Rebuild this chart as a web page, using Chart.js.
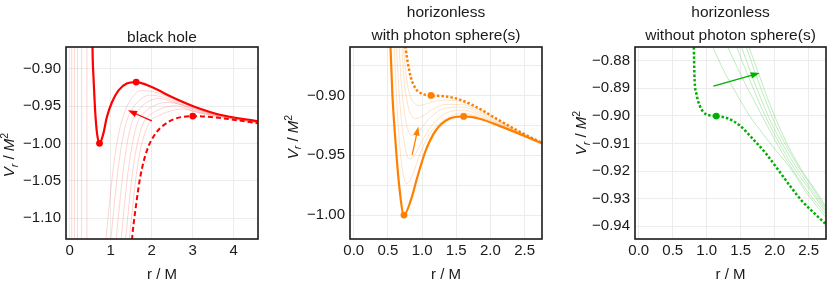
<!DOCTYPE html>
<html>
<head>
<meta charset="utf-8">
<script src="https://cdn.jsdelivr.net/npm/chart.js@4.4.1/dist/chart.umd.min.js"></script>
<style>
  body { margin: 0; background: #fff; width: 830px; height: 286px; overflow: hidden; position: relative; }
  canvas { position: absolute; top: 0; }
</style>
</head>
<body>
<canvas id="bh" width="270" height="286" style="left:0px"></canvas>
<canvas id="ps" width="270" height="286" style="left:280px"></canvas>
<canvas id="nps" width="270" height="286" style="left:560px"></canvas>
<script>
// radial potential V_r / M^2 against r / M as [r, V] pairs

// --- black hole ---
const bhSolid = [[0.552,-0.86],[0.562,-0.889],[0.58,-0.911],[0.62,-0.956],[0.667,-0.987],[0.727,-1.0],[0.82,-0.987],[0.905,-0.965],[1.03,-0.945],[1.19,-0.929],[1.39,-0.920],[1.62,-0.918],[2.0,-0.9246],[2.49,-0.938],[3.06,-0.9514],[3.63,-0.9613],[4.6,-0.9705]];
const bhDashed = [[1.505,-1.14],[1.52,-1.128],[1.6,-1.09],[1.72,-1.045],[1.88,-1.01],[2.09,-0.987],[2.33,-0.974],[2.57,-0.967],[3.0,-0.9635],[3.63,-0.9658],[4.6,-0.9732]];
const bhThin = [
  [[0.86,-1.14],[0.87,-1.135],[1.04,-1.0436],[1.15,-1.0],[1.27,-0.97],[1.4,-0.950],[1.55,-0.937],[1.71,-0.9295],[2.0,-0.9305],[2.5,-0.940],[3.0,-0.9517],[3.6,-0.9614],[4.6,-0.9709]],
  [[0.98,-1.14],[0.99,-1.135],[1.16,-1.0436],[1.27,-1.0],[1.39,-0.97],[1.55,-0.952],[1.75,-0.940],[1.96,-0.9354],[2.2,-0.9370],[2.5,-0.9425],[3.0,-0.9527],[3.6,-0.9619],[4.6,-0.9713]],
  [[1.11,-1.14],[1.12,-1.135],[1.29,-1.0436],[1.40,-1.0],[1.53,-0.97],[1.7,-0.954],[1.9,-0.9445],[2.16,-0.9398],[2.5,-0.9445],[3.0,-0.9538],[3.6,-0.9624],[4.6,-0.9717]],
  [[1.23,-1.14],[1.24,-1.135],[1.41,-1.0436],[1.53,-1.0],[1.67,-0.97],[1.85,-0.957],[2.1,-0.9485],[2.36,-0.9452],[2.7,-0.9480],[3.0,-0.9550],[3.6,-0.9629],[4.6,-0.9721]],
  [[1.34,-1.14],[1.35,-1.135],[1.52,-1.0436],[1.65,-1.0],[1.82,-0.97],[2.0,-0.9605],[2.25,-0.9530],[2.57,-0.9497],[3.0,-0.9565],[3.6,-0.9636],[4.6,-0.9725]],
  [[1.43,-1.14],[1.44,-1.135],[1.62,-1.0436],[1.76,-1.0],[1.97,-0.97],[2.15,-0.9635],[2.4,-0.9575],[2.77,-0.9541],[3.1,-0.9585],[3.6,-0.9643],[4.6,-0.9728]]
];
const bhInner = [0.05, 0.12, 0.19, 0.29, 0.42]; // near-vertical branches inside
const bhMarks = [[0.727,-1.0],[1.62,-0.918],[3.0,-0.9635]];
const bhArrow = [[2.0,-0.970],[1.42,-0.9557]];

// --- horizonless, with photon sphere(s) ---
const psSolid = [[0.535,-0.855],[0.565,-0.8986],[0.613,-0.9404],[0.662,-0.9738],[0.735,-1.0],[0.834,-0.9878],[0.932,-0.968],[1.054,-0.946],[1.2,-0.9293],[1.397,-0.9195],[1.609,-0.9175],[1.84,-0.9195],[2.18,-0.9265],[2.76,-0.9402]];
const psDotted = [[0.745,-0.855],[0.785,-0.8707],[0.834,-0.8846],[0.907,-0.8944],[1.0,-0.8986],[1.13,-0.900],[1.35,-0.9008],[1.59,-0.9042],[1.84,-0.9111],[2.13,-0.9209],[2.43,-0.9304],[2.76,-0.9398]];
const psThin = [
  [[0.72,-0.855],[0.77,-0.885],[0.83,-0.901],[0.88,-0.906],[0.95,-0.9084],[1.05,-0.9072],[1.2,-0.9048],[1.35,-0.9038],[1.6,-0.9058],[1.85,-0.9125],[2.2,-0.9238],[2.76,-0.9399]],
  [[0.70,-0.855],[0.74,-0.889],[0.8,-0.910],[0.85,-0.917],[0.90,-0.9195],[1.0,-0.9175],[1.15,-0.9118],[1.35,-0.9075],[1.6,-0.9078],[1.85,-0.914],[2.2,-0.9245],[2.76,-0.9400]],
  [[0.66,-0.855],[0.70,-0.893],[0.76,-0.921],[0.80,-0.930],[0.86,-0.9335],[0.95,-0.930],[1.1,-0.9195],[1.35,-0.9105],[1.6,-0.9098],[1.85,-0.9155],[2.2,-0.9252],[2.76,-0.9400]],
  [[0.62,-0.855],[0.66,-0.895],[0.72,-0.932],[0.77,-0.948],[0.82,-0.953],[0.9,-0.949],[1.0,-0.938],[1.15,-0.9245],[1.35,-0.9148],[1.6,-0.9122],[1.85,-0.917],[2.2,-0.9258],[2.76,-0.9401]],
  [[0.59,-0.855],[0.62,-0.895],[0.67,-0.940],[0.72,-0.965],[0.77,-0.9738],[0.85,-0.968],[0.95,-0.952],[1.1,-0.933],[1.35,-0.9195],[1.6,-0.9148],[1.85,-0.9184],[2.2,-0.9263],[2.76,-0.9401]]
];
const psMarks = [[0.735,-1.0],[1.609,-0.9175],[1.13,-0.900]];
const psArrow = [[0.855,-0.9496],[0.945,-0.926]];

// --- horizonless, without photon sphere(s) ---
const npsDotted = [[0.805,-0.872],[0.81,-0.8751],[0.82,-0.886],[0.849,-0.8921],[0.897,-0.8963],[0.98,-0.8993],[1.14,-0.9001],[1.295,-0.9008],[1.49,-0.9036],[1.68,-0.9084],[1.876,-0.9138],[2.07,-0.9202],[2.22,-0.9252],[2.4,-0.9308],[2.55,-0.9345],[2.76,-0.9394]];
const npsThin = [
  [[1.07,-0.874],[1.09,-0.8751],[1.25,-0.8836],[1.44,-0.8921],[1.63,-0.9000],[1.83,-0.9066],[2.02,-0.9126],[2.22,-0.9186],[2.45,-0.9272],[2.76,-0.9370]],
  [[1.29,-0.874],[1.31,-0.8751],[1.45,-0.8825],[1.6,-0.8900],[1.75,-0.8970],[1.9,-0.9040],[2.02,-0.9095],[2.2,-0.9170],[2.45,-0.9262],[2.76,-0.9359]],
  [[1.42,-0.874],[1.44,-0.8751],[1.55,-0.8820],[1.7,-0.8910],[1.85,-0.8995],[2.07,-0.9100],[2.3,-0.9195],[2.5,-0.9262],[2.76,-0.9351]],
  [[1.49,-0.874],[1.51,-0.8751],[1.65,-0.8845],[1.8,-0.8940],[1.95,-0.9025],[2.11,-0.9100],[2.3,-0.9180],[2.5,-0.9252],[2.76,-0.9344]],
  [[1.56,-0.874],[1.58,-0.8751],[1.7,-0.8835],[1.85,-0.8935],[2.0,-0.9025],[2.15,-0.9100],[2.35,-0.9185],[2.55,-0.9258],[2.76,-0.9337]],
  [[1.60,-0.874],[1.62,-0.8751],[1.75,-0.8838],[1.9,-0.8940],[2.05,-0.9030],[2.18,-0.9100],[2.38,-0.9190],[2.58,-0.9262],[2.76,-0.9331]]
];
const npsMarks = [[1.14,-0.9001]];
const npsArrow = [[1.10,-0.8893],[1.78,-0.8845]];

// ticks
const bhXTicks = [0, 1, 2, 3, 4];
const bhXLabels = ['0', '1', '2', '3', '4'];
const bhYTicks = [-1.10, -1.05, -1.00, -0.95, -0.90];
const bhYLabels = ['\u22121.10', '\u22121.05', '\u22121.00', '\u22120.95', '\u22120.90'];
const hlXTicks = [0, 0.5, 1.0, 1.5, 2.0, 2.5];
const hlXLabels = ['0.0', '0.5', '1.0', '1.5', '2.0', '2.5'];
const psYTicks = [-1.0, -0.975, -0.95, -0.925, -0.90, -0.875];
const psYLabels = ['\u22121.00', '', '\u22120.95', '', '\u22120.90', ''];
const npsYTicks = [-0.94, -0.93, -0.92, -0.91, -0.90, -0.89, -0.88];
const npsYLabels = ['\u22120.94', '\u22120.93', '\u22120.92', '\u22120.91', '\u22120.90', '\u22120.89', '\u22120.88'];

const fam = '"Liberation Sans", Arial, sans-serif';
const ink = '#1a1a1a';

function curve(pts, color, width, dash) {
  return {
    data: pts.map(([x, y]) => ({x, y})),
    borderColor: color, borderWidth: width, borderDash: dash || [],
    pointRadius: 0, cubicInterpolationMode: 'monotone', fill: false
  };
}
function straight(pts, color, width) {
  return { data: pts.map(([x, y]) => ({x, y})), borderColor: color, borderWidth: width, pointRadius: 0, tension: 0, fill: false };
}
function dots(pts, color) {
  return {
    data: pts.map(([x, y]) => ({x, y})), showLine: false,
    pointRadius: 3.4, pointBackgroundColor: color, pointBorderColor: color, pointBorderWidth: 0
  };
}

// frame, titles, y title with sub/superscript, arrow
const deco = {
  id: 'deco',
  afterDatasetsDraw(chart, args, o) {
    const {ctx, scales: {x, y}} = chart;
    const x0 = x.getPixelForValue(o.arrow[0][0]), y0 = y.getPixelForValue(o.arrow[0][1]);
    const x1 = x.getPixelForValue(o.arrow[1][0]), y1 = y.getPixelForValue(o.arrow[1][1]);
    const a = Math.atan2(y1 - y0, x1 - x0), c = Math.cos(a), s = Math.sin(a);
    ctx.save();
    ctx.strokeStyle = o.color; ctx.fillStyle = o.color; ctx.lineWidth = 1.3;
    ctx.beginPath(); ctx.moveTo(x0, y0); ctx.lineTo(x1 - 6 * c, y1 - 6 * s); ctx.stroke();
    ctx.beginPath(); ctx.moveTo(x1, y1);
    ctx.lineTo(x1 - 9 * c + 3.2 * s, y1 - 9 * s - 3.2 * c);
    ctx.lineTo(x1 - 9 * c - 3.2 * s, y1 - 9 * s + 3.2 * c);
    ctx.closePath(); ctx.fill();
    ctx.restore();
  },
  afterDraw(chart, args, o) {
    const {ctx, chartArea: r} = chart;
    ctx.save();
    ctx.strokeStyle = ink; ctx.lineWidth = 1.6;
    ctx.strokeRect(r.left, r.top, r.right - r.left, r.bottom - r.top);
    ctx.fillStyle = ink; ctx.textAlign = 'center'; ctx.textBaseline = 'alphabetic';
    ctx.font = '15.5px ' + fam;
    o.title.forEach((t, i) => ctx.fillText(t, (r.left + r.right) / 2, o.titleY[i]));
    // y title: V_r / M^2
    const parts = [['V', 'italic 15px', 0], ['r', 'italic 10.5px', 3.5], [' / ', '15px', 0], ['M', 'italic 15px', 0], ['2', '10.5px', -6]];
    ctx.translate(o.yTitle[0], o.yTitle[1]); ctx.rotate(-Math.PI / 2);
    let w = 0;
    parts.forEach(p => { ctx.font = p[1] + ' ' + fam; w += ctx.measureText(p[0]).width; });
    let u = -w / 2;
    ctx.textAlign = 'left';
    parts.forEach(p => {
      ctx.font = p[1] + ' ' + fam;
      ctx.fillText(p[0], u, 5.4 + p[2]);
      u += ctx.measureText(p[0]).width;
    });
    ctx.restore();
  }
};

function panel(id, o) {
  const tickFont = {family: fam, size: 15};
  new Chart(document.getElementById(id), {
    type: 'line',
    data: { datasets: o.datasets },
    options: {
      responsive: false, animation: false, devicePixelRatio: 1,
      layout: { padding: { top: 47, right: o.padRight, bottom: 0, left: 0 } },
      plugins: {
        legend: { display: false }, tooltip: { enabled: false },
        deco: { title: o.title, titleY: o.titleY, yTitle: o.yTitle, arrow: o.arrow, color: o.color }
      },
      scales: {
        x: {
          type: 'linear', min: o.xRange[0], max: o.xRange[1],
          afterFit: s => { s.height = 47; },
          afterBuildTicks: s => { s.ticks = o.xTicks.map(v => ({value: v})); },
          ticks: { callback: (v, i) => o.xLabels[i], font: tickFont, color: ink, padding: 3, maxRotation: 0, autoSkip: false },
          grid: { color: '#ececec', drawTicks: false }, border: { display: false },
          title: { display: true, text: 'r / M', font: tickFont, color: ink, padding: { top: 0, bottom: 2 } }
        },
        y: {
          type: 'linear', min: o.yRange[0], max: o.yRange[1],
          afterFit: s => { s.width = o.yWidth; },
          afterBuildTicks: s => { s.ticks = o.yTicks.map(v => ({value: v})); },
          ticks: { callback: (v, i) => o.yLabels[i], font: tickFont, color: ink, padding: 5, autoSkip: false },
          grid: { color: '#ececec', drawTicks: false }, border: { display: false }
        }
      }
    },
    plugins: [deco]
  });
}

const red = '#ff0000', redThin = 'rgba(255,0,0,0.22)';
const orange = '#ff8000', orangeThin = 'rgba(255,128,0,0.28)';
const green = '#00b000', greenThin = 'rgba(0,176,0,0.32)';

panel('bh', {
  datasets: [
    ...bhInner.map(r => straight([[r, -1.14], [r, -0.86]], redThin, 0.8)),
    ...bhThin.map(c => curve(c, redThin, 0.8)),
    curve(bhDashed, red, 2, [5, 3]),
    curve(bhSolid, red, 2.2),
    dots(bhMarks, red)
  ],
  xRange: [-0.09, 4.59], yRange: [-1.128, -0.871],
  xTicks: bhXTicks, xLabels: bhXLabels, yTicks: bhYTicks, yLabels: bhYLabels,
  yWidth: 66, padRight: 12, title: ['black hole'], titleY: [41.5], yTitle: [9, 155],
  arrow: bhArrow, color: red
});

panel('ps', {
  datasets: [
    ...psThin.map(c => curve(c, orangeThin, 0.8)),
    curve(psDotted, orange, 2.5, [2.5, 2]),
    curve(psSolid, orange, 2.2),
    dots(psMarks, orange)
  ],
  xRange: [-0.055, 2.755], yRange: [-1.020, -0.8595],
  xTicks: hlXTicks, xLabels: hlXLabels, yTicks: psYTicks, yLabels: psYLabels,
  yWidth: 70, padRight: 8, title: ['horizonless', 'with photon sphere(s)'], titleY: [16.7, 40], yTitle: [12.5, 137],
  arrow: psArrow, color: orange
});

panel('nps', {
  datasets: [
    ...npsThin.map(c => curve(c, greenThin, 0.8)),
    curve(npsDotted, green, 2.5, [2.5, 2]),
    dots(npsMarks, green)
  ],
  xRange: [-0.055, 2.755], yRange: [-0.9446, -0.8751],
  xTicks: hlXTicks, xLabels: hlXLabels, yTicks: npsYTicks, yLabels: npsYLabels,
  yWidth: 75, padRight: 3, title: ['horizonless', 'without photon sphere(s)'], titleY: [16.7, 40], yTitle: [21, 133],
  arrow: npsArrow, color: green
});
</script>
</body>
</html>
